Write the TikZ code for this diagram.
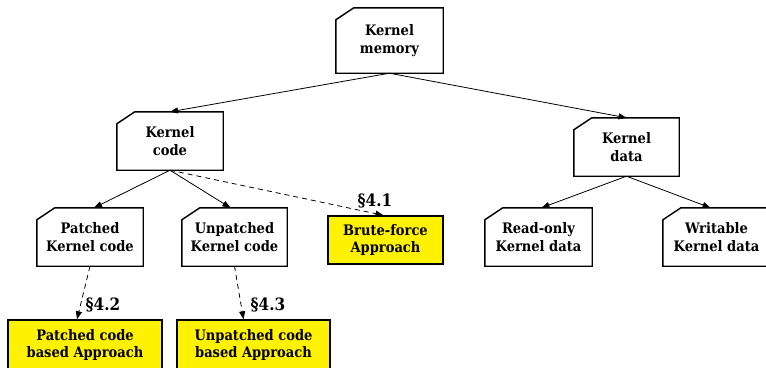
\documentclass[tikz,border=0pt]{standalone}
\usepackage{fontspec}
\IfFontExistsTF{DejaVu Serif Condensed}{%
  \setmainfont{DejaVu Serif Condensed}
  \newcommand\bodysize{\fontsize{14.5}{17.5}\selectfont}
  \newcommand\refsize{\fontsize{17}{18}\selectfont}
}{%
  \setmainfont{Liberation Serif}
  \newcommand\bodysize{\fontsize{16.8}{17.5}\selectfont}
  \newcommand\refsize{\fontsize{19.5}{20}\selectfont}
}
\usetikzlibrary{arrows.meta}
\begin{document}
\begin{tikzpicture}[x=1pt,y=-1pt,
  txt/.style={font=\bfseries\bodysize, align=center, inner sep=0pt},
  membox/.style={txt, minimum width=#1, minimum height=58pt},
  approach/.style={txt, draw=black, line width=1.4pt, fill=yellow, minimum width=#1, minimum height=50pt},
  secref/.style={font=\bfseries\refsize, inner sep=0pt},
  link/.style={line width=0.8pt, -{Triangle[length=8pt,width=6pt]}},
  dlink/.style={link, dash pattern=on 5pt off 4pt},
  boxline/.style={line width=1.4pt, line join=miter}
]
\useasboundingbox (0,0) rectangle (766,367);
\path[clip] (0,0) rectangle (766,367);

% memory regions
\node[membox=107pt, minimum height=65pt] (mem) at (389.5,40.5) {Kernel\\memory};
\node[membox=106pt] (code) at (170,141) {Kernel\\code};
\node[membox=105pt] (data) at (626.5,147) {Kernel\\data};
\node[membox=106pt] (patched) at (90,237) {Patched\\Kernel code};
\node[membox=105pt] (unpatched) at (234.5,237) {Unpatched\\Kernel code};
\node[membox=107pt] (ro) at (538.5,237) {Read-only\\Kernel data};
\node[membox=107pt] (wr) at (716.5,237) {Writable\\Kernel data};

% chamfered outlines of the memory regions
\foreach \n in {mem,code,data,patched,unpatched,ro,wr}{
  \draw[boxline] (\n.south west) -- (\n.south east) -- (\n.north east)
    -- ([xshift=18pt]\n.north west) -- ([yshift=-12pt]\n.north west) -- cycle;
}

% approaches
\node[approach=115pt, minimum height=48pt] (brute) at (385.5,240) {Brute-force\\Approach};
\node[approach=154pt] (papp) at (85,345) {Patched code\\based Approach};
\node[approach=153pt] (uapp) at (253.5,345) {Unpatched code\\based Approach};

% hierarchy
\draw[link] (mem.south) -- (code.north);
\draw[link] (mem.south) -- (data.north);
\draw[link] (code.south) -- ([xshift=4pt]patched.north);
\draw[link] (code.south) -- ([xshift=-4pt]unpatched.north);
\draw[link] (data.south) -- ([xshift=3pt]ro.north);
\draw[link] (data.south) -- ([xshift=-6pt]wr.north);

% approach links
\draw[dlink] (code.south) -- ([xshift=-2pt]brute.north);
\draw[dlink] (patched.south) -- ([xshift=-8pt]papp.north);
\draw[dlink] (unpatched.south) -- ([xshift=-10pt]uapp.north);

% section labels
\node[secref] (s41) at (375,201) {\S4.1};
\node[secref] (s42) at (103,305) {\S4.2};
\node[secref] (s43) at (268,305) {\S4.3};
\end{tikzpicture}
\end{document}
